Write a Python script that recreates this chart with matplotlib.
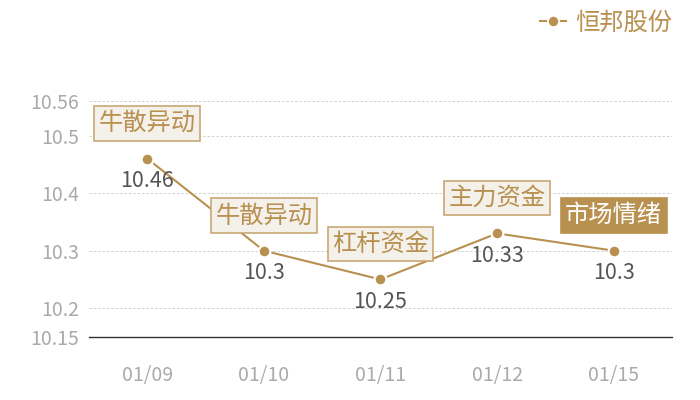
import matplotlib
matplotlib.use("Agg")
import matplotlib.pyplot as plt
from matplotlib.lines import Line2D

plt.rcParams['font.family'] = ['Noto Sans CJK SC', 'DejaVu Sans']

dates = ["01/09", "01/10", "01/11", "01/12", "01/15"]
prices = [10.46, 10.3, 10.25, 10.33, 10.3]
value_labels = ["10.46", "10.3", "10.25", "10.33", "10.3"]
tags = ["牛散异动", "牛散异动", "杠杆资金", "主力资金", "市场情绪"]
tag_highlight = [False, False, False, False, True]
yticks = [10.15, 10.2, 10.3, 10.4, 10.5, 10.56]
series_name = "恒邦股份"

gold = "#b8904f"
box_edge = "#c9a874"
box_bg = "#f4f0ea"

fig = plt.figure(figsize=(7, 4), dpi=100)
ax = fig.add_axes([0.127, 0.1575, 0.833, 0.59])

x = list(range(len(dates)))
ax.plot(x, prices, color=gold, lw=1.5, marker='o', ms=8.5,
        markerfacecolor=gold, markeredgecolor='white', markeredgewidth=1.6,
        zorder=3, solid_capstyle='butt')

ax.set_xlim(-0.5, len(dates) - 0.5)
ax.set_ylim(10.15, 10.56)
ax.set_yticks(yticks)
ax.set_yticklabels([f"{v:g}" for v in yticks])
ax.set_xticks(x)
ax.set_xticklabels(dates)
ax.tick_params(axis='both', length=0, colors='#aaaaaa', labelsize=14)
ax.tick_params(axis='y', pad=7)
ax.tick_params(axis='x', pad=20)

for v in yticks[1:]:
    ax.axhline(v, color='#d0d0d0', lw=0.7, ls=(0, (2.5, 2)), zorder=1)

for s in ['top', 'right', 'left']:
    ax.spines[s].set_visible(False)
ax.spines['bottom'].set_color('#333333')
ax.spines['bottom'].set_linewidth(1.0)

for xi, yi, vl, tg, hl in zip(x, prices, value_labels, tags, tag_highlight):
    ax.annotate(vl, (xi, yi), xytext=(0, -16), textcoords='offset points',
                ha='center', va='center', fontsize=15.5, color='#555555', zorder=4)
    if hl:
        bb = dict(boxstyle='square,pad=0.18', fc=gold, ec=gold, lw=1.2)
        tc = 'white'
    else:
        bb = dict(boxstyle='square,pad=0.18', fc=box_bg, ec=box_edge, lw=1.2)
        tc = gold
    ax.annotate(tg, (xi, yi), xytext=(0, 25.5), textcoords='offset points',
                ha='center', va='center', fontsize=17.5, color=tc, bbox=bb, zorder=5)

handle = Line2D([], [], color=gold, lw=1.5, marker='o', ms=8,
                markerfacecolor=gold, markeredgecolor='white', markeredgewidth=1.2)
leg = fig.legend([handle], [series_name], loc='upper right',
                 bbox_to_anchor=(0.991, 1.03), frameon=False, fontsize=17.5,
                 handlelength=1.1, handletextpad=0.35, labelcolor=gold)

fig.savefig("out.png", dpi=100)
